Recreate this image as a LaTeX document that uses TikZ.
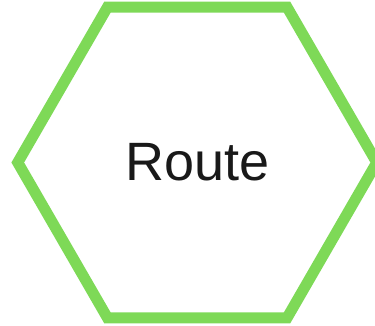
\documentclass[tikz,border=0pt]{standalone}
\usepackage{fontspec}
\setmainfont{Liberation Sans}
\usetikzlibrary{shapes.geometric}
\definecolor{routegreen}{RGB}{126,217,87}

\begin{document}
\begin{tikzpicture}[x=1pt, y=-1pt, every node/.style={font=\fontsize{54}{60}\selectfont}]
	% Rahmen
	\useasboundingbox (0,0) rectangle (375,325);
	
	% Sechseck mit Text
	\node[regular polygon, regular polygon sides=6, draw=routegreen, line width=11pt,
	      minimum size=359pt, inner sep=0pt, text=black!90] (route) at (197.25,162.5) {Route};
\end{tikzpicture}
\end{document}
